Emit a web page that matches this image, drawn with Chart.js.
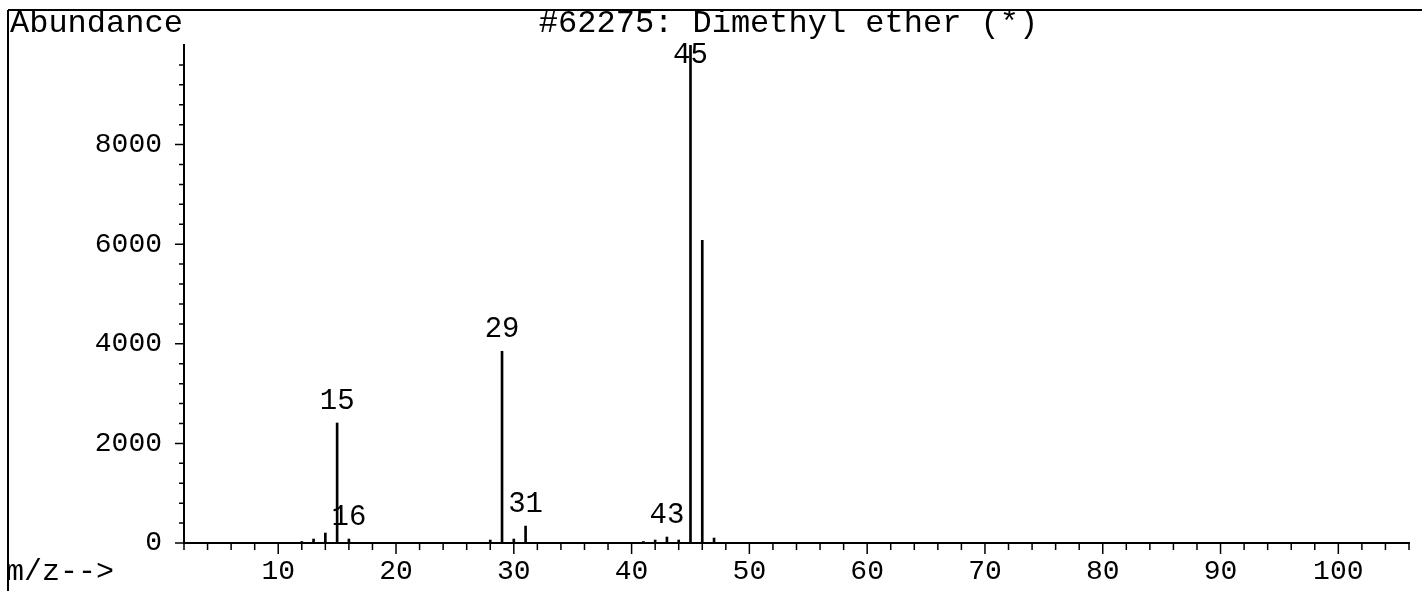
<!DOCTYPE html>
<html>
<head>
<meta charset="utf-8">
<title>#62275: Dimethyl ether (*)</title>
<script src="https://cdn.jsdelivr.net/npm/chart.js@4.4.0/dist/chart.umd.min.js"></script>
<style>
  html, body { margin: 0; padding: 0; background: #fff; }
  #contenedor { position: relative; width: 1422px; height: 591px; }
</style>
</head>
<body>
<div id="contenedor"><canvas id="espectroChart" width="1422" height="591"></canvas></div>
<script>
var masas = [12, 13, 14, 15, 16, 28, 29, 30, 31, 41, 42, 43, 44, 45, 46, 47];
var abundancias = [30, 80, 200, 2410, 80, 60, 3850, 80, 340, 30, 60, 120, 60, 9999, 6080, 100];
var picosEtiquetados = [15, 16, 29, 31, 43, 45];
var ticksX = [10, 20, 30, 40, 50, 60, 70, 80, 90, 100];
var ticksY = [0, 2000, 4000, 6000, 8000];
var titulo = '#62275: Dimethyl ether (*)';

var fuente = 'Liberation Mono, Courier New, monospace';

// Marcas de los ejes, textos y etiquetas de los picos
var plugin = {
  id: 'espectro',
  afterDraw: function (chart) {
    var ctx = chart.ctx;
    var area = chart.chartArea;
    var x = chart.scales.x;
    var y = chart.scales.y;

    ctx.save();
    ctx.strokeStyle = '#000';
    ctx.fillStyle = '#000';

    // marco superior e izquierdo
    ctx.lineWidth = 2;
    ctx.beginPath();
    ctx.moveTo(8, 10);
    ctx.lineTo(1422, 10);
    ctx.moveTo(8, 10);
    ctx.lineTo(8, 591);
    ctx.stroke();

    // marcas del eje x
    ctx.lineWidth = 1.5;
    ctx.beginPath();
    x.ticks.forEach(function (t) {
      var px = x.getPixelForValue(t.value);
      var largo = t.value % 10 === 0 ? 11 : 7;
      ctx.moveTo(px, area.bottom);
      ctx.lineTo(px, area.bottom + largo);
    });
    // marcas del eje y
    y.ticks.forEach(function (t) {
      if (t.value >= 10000) return;
      var py = y.getPixelForValue(t.value);
      var largo = t.value % 2000 === 0 ? 9 : 5;
      ctx.moveTo(area.left, py);
      ctx.lineTo(area.left - largo, py);
    });
    ctx.stroke();

    // textos fijos
    ctx.font = '32px ' + fuente;
    ctx.textBaseline = 'middle';
    ctx.textAlign = 'left';
    ctx.fillText('Abundance', 10, 24);
    ctx.font = '30px ' + fuente;
    ctx.fillText('m/z-->', 6, 572);
    ctx.font = '32px ' + fuente;
    ctx.textAlign = 'center';
    ctx.fillText(titulo, (area.left + area.right) / 2 - 8, 24);

    // etiquetas de los picos
    ctx.font = '29px ' + fuente;
    picosEtiquetados.forEach(function (m) {
      var i = masas.indexOf(m);
      var px = x.getPixelForValue(m);
      var py = y.getPixelForValue(abundancias[i]);
      ctx.fillText(String(m), px, Math.max(py - 22, area.top + 10));
    });
    ctx.restore();
  }
};

var puntos = masas.map(function (m, i) {
  return { x: m, y: abundancias[i] };
});

new Chart(document.getElementById('espectroChart').getContext('2d'), {
  type: 'bar',
  data: {
    datasets: [{
      label: 'Abundance',
      data: puntos,
      backgroundColor: '#000',
      borderWidth: 0,
      barThickness: 2
    }]
  },
  options: {
    responsive: false,
    animation: false,
    devicePixelRatio: 1,
    layout: { padding: { left: 0, top: 45, right: 13, bottom: 0 } },
    plugins: {
      legend: { display: false },
      tooltip: { enabled: false },
      title: { display: false }
    },
    scales: {
      x: {
        type: 'linear',
        offset: false,
        min: 2,
        max: 106,
        afterFit: function (scale) { scale.height = 48; },
        grid: { display: false, drawTicks: false, offset: false },
        border: { display: true, color: '#000', width: 2 },
        ticks: {
          stepSize: 2,
          autoSkip: false,
          maxRotation: 0,
          padding: 12,
          color: '#000',
          font: { family: fuente, size: 28 },
          callback: function (v) { return ticksX.indexOf(v) >= 0 ? String(v) : ''; }
        }
      },
      y: {
        min: 0,
        max: 10000,
        afterFit: function (scale) { scale.width = 184; },
        grid: { display: false, drawTicks: false },
        border: { display: true, color: '#000', width: 2 },
        ticks: {
          stepSize: 400,
          autoSkip: false,
          padding: 22,
          color: '#000',
          font: { family: fuente, size: 28 },
          callback: function (v) { return ticksY.indexOf(v) >= 0 ? String(v) : ''; }
        }
      }
    }
  },
  plugins: [plugin]
});
</script>
</body>
</html>
